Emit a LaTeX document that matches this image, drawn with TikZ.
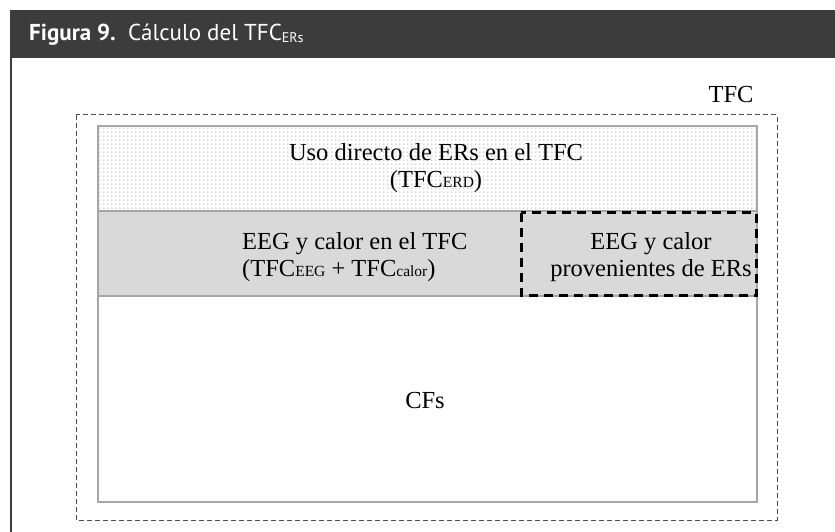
\documentclass[tikz,border=0pt]{standalone}
\usepackage{fontspec}
\setmainfont{Liberation Serif}
\newfontfamily\hdfont{PT Sans}
\usetikzlibrary{patterns.meta}
\tikzdeclarepattern{name=finedots, type=uncolored,
  bounding box={(0pt,0pt) and (4.3pt,4.3pt)}, tile size={(4.3pt,4.3pt)},
  code={\fill (2.15pt,2.15pt) circle (0.75pt);}}
\definecolor{hdgray}{HTML}{3C3C3C}
\definecolor{bandgray}{HTML}{D9D9D9}
\definecolor{edgegray}{HTML}{A6A6A6}
\newcommand{\smsub}[1]{\raisebox{-0.5pt}{\fontsize{15.5}{15.5}\selectfont #1}}
\begin{document}
\begin{tikzpicture}[x=1pt,y=-1pt,
  txt/.style={font=\fontsize{24.5}{27}\selectfont, inner sep=0pt, anchor=base},
  outerbox/.style={draw=black!70, line width=1pt, dash pattern=on 5pt off 3pt},
  innerbox/.style={draw=edgegray, line width=2pt},
  erbox/.style={draw=black, line width=3pt, dash pattern=on 9pt off 6pt}]
\useasboundingbox (0,0) rectangle (835,532);
% header
\fill[hdgray] (10,10) rectangle (835,58);
\draw[hdgray, line width=2.5pt] (11,58) -- (11,532);
\node[anchor=base west, text=white, inner sep=0pt, font=\hdfont\fontsize{23}{25}\selectfont] (title) at (29,41)
  {{\bfseries Figura 9.}\ \ Cálculo del TFC\raisebox{-2pt}{\fontsize{14}{14}\selectfont ERs}};
% outer dashed TFC box
\draw[outerbox] (76,115) rectangle (777,520);
\node[txt] (tfc) at (731,103) {TFC};
% dotted band
\fill[white] (98,126) rectangle (757,211);
\fill[pattern=finedots, pattern color=black!35] (98,126) rectangle (757,211);
% gray band
\fill[bandgray] (98,211) rectangle (757,296);
\draw[edgegray, line width=2pt] (98,211) -- (757,211);
\draw[edgegray, line width=2pt] (98,296) -- (757,296);
% inner box
\draw[innerbox] (98,126) rectangle (757,502);
% ER dashed box
\draw[erbox] (521,212.5) rectangle (756,295);
% texts (anchor base = baseline of the last line)
\node[txt, align=center] (uso) at (436,187) {Uso directo de ERs en el TFC\\(TFC\smsub{ERD})};
\node[txt, align=left, anchor=base west] (eeg) at (242,276) {EEG y calor en el TFC\\(TFC\smsub{EEG} + TFC\smsub{calor})};
\node[txt, align=center] (eegr) at (651,276) {EEG y calor\\provenientes de ERs};
\node[txt] (cfs) at (425,408) {CFs};
\end{tikzpicture}
\end{document}
